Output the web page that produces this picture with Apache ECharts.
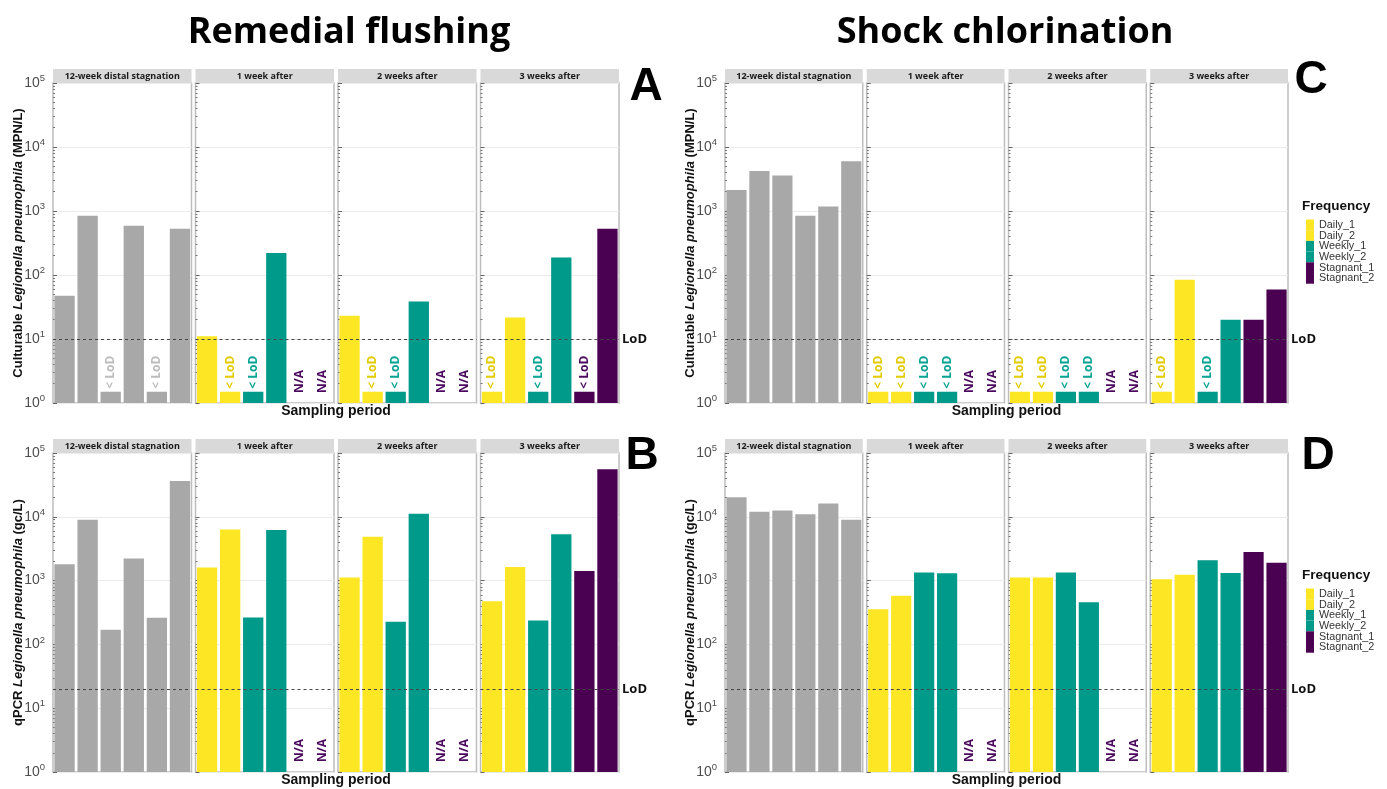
<!DOCTYPE html>
<html><head><meta charset="utf-8">
<script src="https://cdn.jsdelivr.net/npm/echarts@6/dist/echarts.min.js"></script>
<style>html,body{margin:0;padding:0;background:#fff}#chart{width:1387px;height:789px}</style>
</head><body><div id="chart"></div>
<script>
// ---------- data ----------
const samples = ['Daily_1', 'Daily_2', 'Weekly_1', 'Weekly_2', 'Stagnant_1', 'Stagnant_2'];
const periods = ['12-week distal stagnation', '1 week after', '2 weeks after', '3 weeks after'];
const BELOW = '<LoD';
const NA = 'N/A';
const belowLodBarValue = 1.5;   // height at which "< LoD" samples are drawn
const lodCulture = 10;          // MPN/L
const lodQpcr = 20;             // gc/L

// A: culturable, remedial flushing
const A_stagnation = [47.5, 846, BELOW, 590, BELOW, 527];
const A_week1 = [11, BELOW, BELOW, 220, NA, NA];
const A_week2 = [23, BELOW, BELOW, 38.7, NA, NA];
const A_week3 = [BELOW, 21.7, BELOW, 188, BELOW, 527];
// B: qPCR, remedial flushing
const B_stagnation = [1805, 8950, 170, 2230, 261, 36500];
const B_week1 = [1600, 6330, 265, 6200, NA, NA];
const B_week2 = [1114, 4880, 226, 11150, NA, NA];
const B_week3 = [475, 1630, 237, 5310, 1420, 55600];
// C: culturable, shock chlorination
const C_stagnation = [2130, 4220, 3600, 846, 1177, 6000];
const C_week1 = [BELOW, BELOW, BELOW, BELOW, NA, NA];
const C_week2 = [BELOW, BELOW, BELOW, BELOW, NA, NA];
const C_week3 = [BELOW, 84.5, BELOW, 20, 20, 59.6];
// D: qPCR, shock chlorination
const D_stagnation = [20300, 12000, 12600, 10950, 16200, 8950];
const D_week1 = [357, 578, 1334, 1300, NA, NA];
const D_week2 = [1114, 1114, 1334, 456, NA, NA];
const D_week3 = [1050, 1230, 2090, 1320, 2800, 1910];

const yMin = 1, yMax = 100000;

// ---------- styles ----------
const sampleColors = ['#FDE725', '#FDE725', '#009A8B', '#009A8B', '#4B0152', '#4B0152'];
const labelColors = ['#E3CB00', '#E3CB00', '#07A393', '#07A393', '#4B0A5E', '#4B0A5E'];
const stagColor = '#A8A8A8';
const stagLabelColor = '#BDBDBD';
const SANS = 'Liberation Sans, Arial, sans-serif';
const OPEN = 'Open Sans, sans-serif';

const layout = [
  { letter: 'A', series: [A_stagnation, A_week1, A_week2, A_week3], lod: lodCulture, left: 53, facetW: 138.5, top: 83, height: 320,
    yTitle: 'Culturable {i|Legionella pneumophila} (MPN/L)', yTitleX: 18, letterX: 646, letterY: 87 },
  { letter: 'B', series: [B_stagnation, B_week1, B_week2, B_week3], lod: lodQpcr, left: 53, facetW: 138.5, top: 453, height: 319,
    yTitle: 'qPCR {i|Legionella pneumophila} (gc/L)', yTitleX: 18, letterX: 642, letterY: 456 },
  { letter: 'C', series: [C_stagnation, C_week1, C_week2, C_week3], lod: lodCulture, left: 725, facetW: 137.75, top: 83, height: 320,
    yTitle: 'Culturable {i|Legionella pneumophila} (MPN/L)', yTitleX: 690, letterX: 1311, letterY: 80 },
  { letter: 'D', series: [D_stagnation, D_week1, D_week2, D_week3], lod: lodQpcr, left: 725, facetW: 137.75, top: 453, height: 319,
    yTitle: 'qPCR {i|Legionella pneumophila} (gc/L)', yTitleX: 690, letterX: 1318, letterY: 456 }
];
const GAP = 4, STRIP_H = 14;

const grids = [], xAxes = [], yAxes = [], seriesList = [], graphics = [];

layout.forEach((p) => {
  p.series.forEach((vals, f) => {
    const gi = grids.length;
    const left = p.left + f * (p.facetW + GAP);
    grids.push({ left: left, top: p.top, width: p.facetW, height: p.height, show: true,
      borderColor: '#BDBDBD', borderWidth: 1.5, backgroundColor: 'transparent', containLabel: false });
    xAxes.push({ type: 'category', gridIndex: gi, data: samples,
      axisLine: { show: false }, axisTick: { show: false }, axisLabel: { show: false }, splitLine: { show: false } });
    yAxes.push({ type: 'log', logBase: 10, gridIndex: gi, min: yMin, max: yMax,
      axisLine: { show: false },
      axisTick: { show: true, inside: true, length: 4, lineStyle: { color: '#666', width: 1 } },
      minorTick: { show: true, splitNumber: 9, length: 2, lineStyle: { color: '#777', width: 1 } },
      splitLine: { show: true, lineStyle: { color: '#EBEBEB', width: 1 } },
      axisLabel: { show: f === 0, margin: 8, fontSize: 14, color: '#4D4D4D', fontFamily: SANS,
        formatter: (v) => '10{sup|' + Math.round(Math.log10(v)) + '}',
        rich: { sup: { fontSize: 9.5, color: '#4D4D4D', fontFamily: SANS, padding: [0, 0, 9, 0] } } } });
    const data = vals.map((v, i) => {
      const col = f === 0 ? stagColor : sampleColors[i];
      const lcol = f === 0 ? stagLabelColor : labelColors[i];
      if (v === BELOW) {
        return { value: belowLodBarValue, itemStyle: { color: col },
          label: { show: true, formatter: '< LoD', color: lcol, distance: 3 } };
      }
      if (v === NA) {
        return { value: yMin, itemStyle: { color: 'transparent' },
          label: { show: true, formatter: 'N/A', color: labelColors[5], distance: 10 } };
      }
      return { value: v, itemStyle: { color: col } };
    });
    seriesList.push({ type: 'bar', xAxisIndex: gi, yAxisIndex: gi, data: data, barCategoryGap: '12%',
      silent: true, animation: false,
      label: { show: false, position: 'top', rotate: 90, align: 'left', verticalAlign: 'middle',
        fontFamily: OPEN, fontWeight: 'bold', fontSize: 12 },
      markLine: { silent: true, symbol: ['none', 'none'], animation: false,
        lineStyle: { type: [3, 3], color: '#444', width: 1 },
        label: { show: f === 3, position: 'end', formatter: 'LoD', distance: 3,
          fontFamily: OPEN, fontWeight: 'bold', fontSize: 13, color: '#111' },
        data: [{ yAxis: p.lod }] } });
    // facet strip
    graphics.push({ type: 'rect', shape: { x: left, y: p.top - STRIP_H, width: p.facetW, height: STRIP_H },
      style: { fill: '#D9D9D9' }, silent: true });
    graphics.push({ type: 'text', x: left + p.facetW / 2, y: p.top - STRIP_H / 2 + 0.5, silent: true,
      style: { text: periods[f], align: 'center', verticalAlign: 'middle', fontFamily: OPEN, fontWeight: 'bold', fontSize: 9, fill: '#1A1A1A' } });
  });
  const totalW = 4 * p.facetW + 3 * GAP;
  // y-axis title
  graphics.push({ type: 'text', x: p.yTitleX, y: p.top + p.height / 2, rotation: Math.PI / 2, silent: true,
    style: { text: p.yTitle, align: 'center', verticalAlign: 'middle', fontFamily: SANS, fontWeight: 'bold', fontSize: 13, fill: '#111',
      rich: { i: { fontStyle: 'italic', fontWeight: 'bold', fontFamily: SANS, fontSize: 13, fill: '#111' } } } });
  // x-axis title
  graphics.push({ type: 'text', x: p.left + totalW / 2, y: p.top + p.height + 8, silent: true,
    style: { text: 'Sampling period', align: 'center', verticalAlign: 'middle', fontFamily: SANS, fontWeight: 'bold', fontSize: 14, fill: '#111' } });
  // panel letter
  graphics.push({ type: 'text', x: p.letterX, y: p.letterY, silent: true,
    style: { text: p.letter, align: 'center', verticalAlign: 'middle', fontFamily: SANS, fontWeight: 'bold', fontSize: 46, fill: '#000' } });
});

// main titles
graphics.push({ type: 'text', x: 349, y: 33, silent: true,
  style: { text: 'Remedial flushing', align: 'center', verticalAlign: 'middle', fontFamily: OPEN, fontWeight: 'bold', fontSize: 36, fill: '#000' } });
graphics.push({ type: 'text', x: 1005, y: 33, silent: true,
  style: { text: 'Shock chlorination', align: 'center', verticalAlign: 'middle', fontFamily: OPEN, fontWeight: 'bold', fontSize: 36, fill: '#000' } });

// legends
[206, 575].forEach((ly) => {
  graphics.push({ type: 'text', x: 1302, y: ly, silent: true,
    style: { text: 'Frequency', align: 'left', verticalAlign: 'middle', fontFamily: SANS, fontWeight: 'bold', fontSize: 13.5, fill: '#111' } });
  samples.forEach((s, i) => {
    const ky = ly + 13.5 + i * 10.7;
    graphics.push({ type: 'rect', shape: { x: 1306, y: ky, width: 8, height: 10.7 }, style: { fill: sampleColors[i] }, silent: true });
    graphics.push({ type: 'text', x: 1319, y: ky + 5.4, silent: true,
      style: { text: s, align: 'left', verticalAlign: 'middle', fontFamily: SANS, fontSize: 10.8, fill: '#333' } });
  });
});

const chart = echarts.init(document.getElementById('chart'), null, { renderer: 'canvas' });
chart.setOption({
  animation: false,
  backgroundColor: '#fff',
  grid: grids, xAxis: xAxes, yAxis: yAxes, series: seriesList,
  graphic: { elements: graphics }
});
</script></body></html>
